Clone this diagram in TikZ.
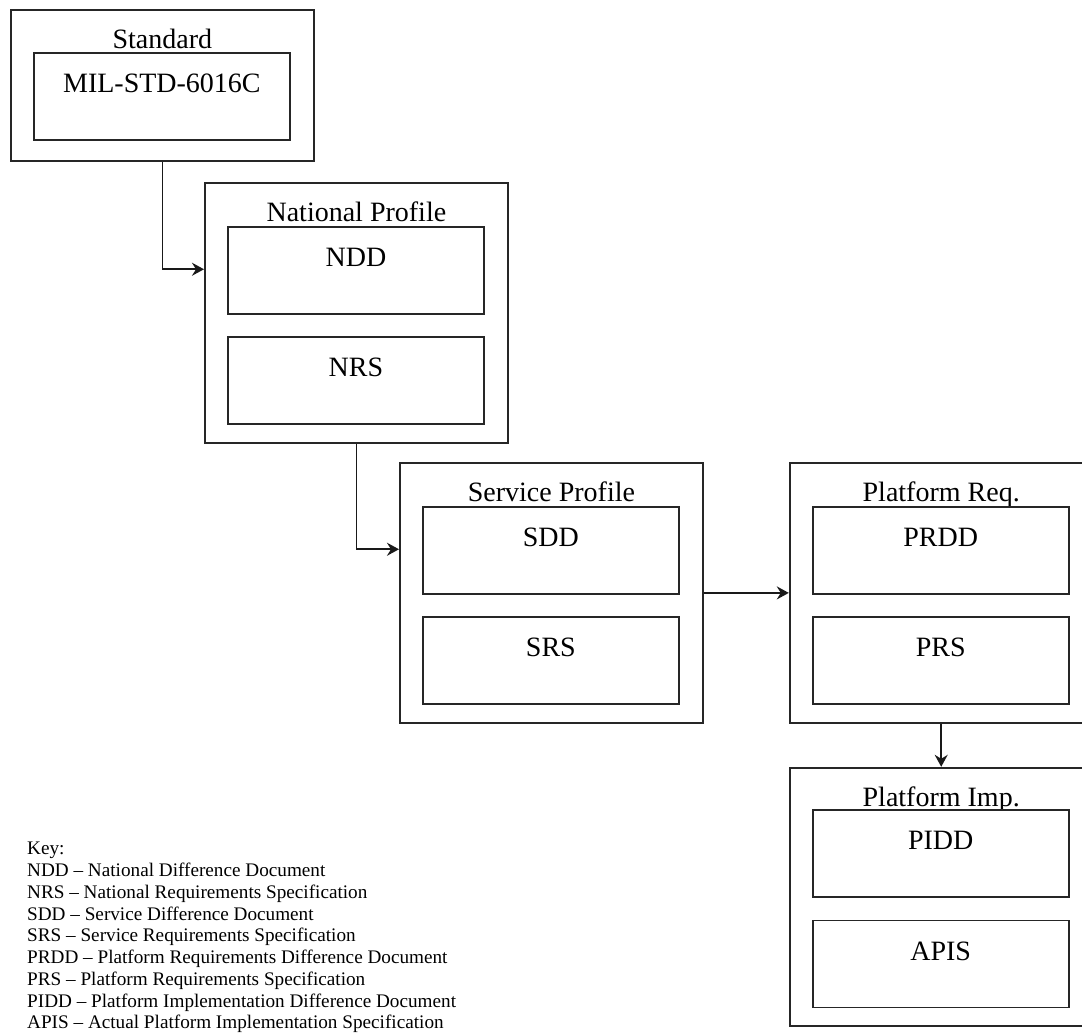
\documentclass[tikz,border=0pt]{standalone}
\usepackage{fontspec}
\setmainfont{Liberation Serif}
\usetikzlibrary{positioning,calc,arrows.meta}

\begin{document}
\begin{tikzpicture}[x=1pt, y=-1pt, node distance=21pt,
        frame/.style={draw=black!85, line width=1.8pt, anchor=north west, minimum width=303pt, inner sep=0pt, text height=39pt, text depth=221pt, font=\fontsize{28}{30}\selectfont},
        doc/.style={draw=black!85, line width=1.8pt, fill=white, anchor=north west, minimum width=256pt, inner sep=0pt, text height=40pt, text depth=47pt, font=\fontsize{28}{30}\selectfont},
        link/.style={->, line width=1.8pt, draw=black!90},
        >={Stealth[length=12pt, width=13pt, inset=4pt]}
    ]
        \useasboundingbox (0,0) rectangle (1082,1033);

        % Standard
        \node [frame, text depth=112pt] (std) at (10,9) {Standard};
        \node [doc, below right=43pt and 23pt of std.north west] (mil) {MIL-STD-6016C};

        % National profile
        \node [frame] (nat) at (204,182) {National Profile};
        \node [doc, below right=44pt and 23pt of nat.north west] (ndd) {NDD};
        \node [doc, below=of ndd] (nrs) {NRS};

        % Service profile
        \node [frame] (srv) at (399,462) {Service Profile};
        \node [doc, below right=44pt and 23pt of srv.north west] (sdd) {SDD};
        \node [doc, below=of sdd] (srs) {SRS};

        % Platform requirements
        \node [frame, right=85pt of srv] (preq) {Platform Req.};
        \node [doc, below right=44pt and 23pt of preq.north west] (prdd) {PRDD};
        \node [doc, below=of prdd] (prs) {PRS};

        % Platform implementation
        \node [frame, text depth=219pt, below=43pt of preq] (pimp) {Platform Imp.};
        \node [doc, below right=42pt and 23pt of pimp.north west] (pidd) {PIDD};
        \node [doc, below=22pt of pidd] (apis) {APIS};

        \draw [link] (std.south) |- ($(nat.north west)!1/3!(nat.south west)$);
        \draw [link] (nat.south) |- ($(srv.north west)!1/3!(srv.south west)$);
        \draw [link] (srv.east) -- (preq.west);
        \draw [link] (preq.south) -- (pimp.north);

        % Key
        \node [anchor=north west, inner sep=0pt, align=left, font=\fontsize{19.2}{21.75}\selectfont] (key) at (27,842)
            {Key:\\
             NDD -- National Difference Document\\
             NRS -- National Requirements Specification\\
             SDD -- Service Difference Document\\
             SRS -- Service Requirements Specification\\
             PRDD -- Platform Requirements Difference Document\\
             PRS -- Platform Requirements Specification\\
             PIDD -- Platform Implementation Difference Document\\
             APIS -- Actual Platform Implementation Specification};
    \end{tikzpicture}
\end{document}
